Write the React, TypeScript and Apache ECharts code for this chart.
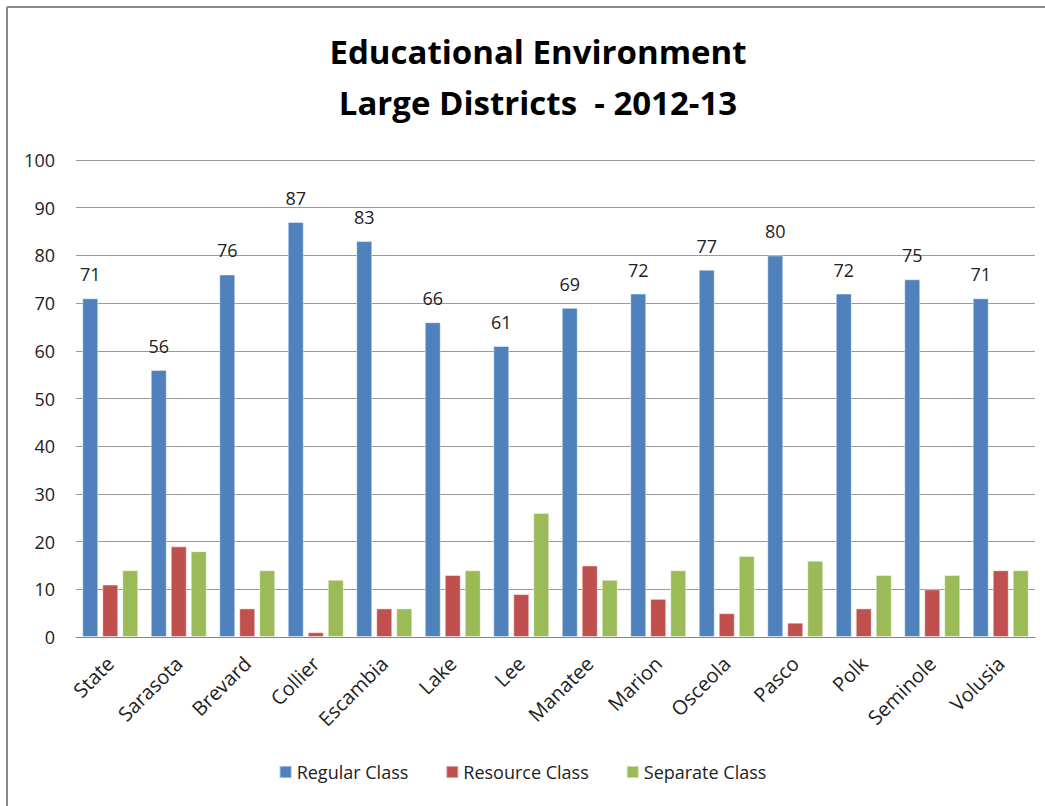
import React, { useEffect, useRef } from "react";
import * as echarts from "echarts";

const categories = ["State", "Sarasota", "Brevard", "Collier", "Escambia", "Lake", "Lee", "Manatee", "Marion", "Osceola", "Pasco", "Polk", "Seminole", "Volusia"];
const regularClass = [71, 56, 76, 87, 83, 66, 61, 69, 72, 77, 80, 72, 75, 71];
const resourceClass = [11, 19, 6, 1, 6, 13, 9, 15, 8, 5, 3, 6, 10, 14];
const separateClass = [14, 18, 14, 12, 6, 14, 26, 12, 14, 17, 16, 13, 13, 14];
const seriesNames = ["Regular Class", "Resource Class", "Separate Class"];
const titleLines = ["Educational Environment", "Large Districts  - 2012-13"];

const FONT = "'Open Sans', Lato, sans-serif";

export default function App() {
  const ref = useRef<HTMLDivElement>(null);
  useEffect(() => {
    document.body.style.margin = "0";
    const chart = echarts.init(ref.current!, null, { renderer: "svg" });
    const itemBorder = { borderColor: "rgba(255,255,255,0.45)", borderWidth: 1 };
    chart.setOption({
      animation: false,
      backgroundColor: "#ffffff",
      textStyle: { fontFamily: FONT },
      title: [
        {
          text: titleLines[0],
          left: 533,
          textAlign: "center",
          top: 30,
          textStyle: { fontSize: 33, fontWeight: "bold", color: "#000", fontFamily: FONT },
        },
        {
          text: titleLines[1],
          left: 533,
          textAlign: "center",
          top: 81,
          textStyle: { fontSize: 33, fontWeight: "bold", color: "#000", fontFamily: FONT },
        },
      ],
      graphic: [
        { type: "line", shape: { x1: 7, y1: 7, x2: 1045, y2: 7 }, style: { stroke: "#8a8a8a", lineWidth: 2 } },
        { type: "line", shape: { x1: 7, y1: 7, x2: 7, y2: 806 }, style: { stroke: "#8a8a8a", lineWidth: 2 } },
      ],
      legend: {
        bottom: 20,
        left: "center",
        itemWidth: 12,
        itemHeight: 12,
        itemGap: 37,
        icon: "rect",
        textStyle: { fontSize: 18, color: "#222", fontFamily: FONT },
        data: seriesNames,
      },
      grid: { left: 76, right: 10, top: 160, bottom: 169, containLabel: false },
      xAxis: {
        type: "category",
        data: categories,
        axisTick: { show: false },
        axisLine: { lineStyle: { color: "#868686", width: 1 } },
        axisLabel: { rotate: 45, fontSize: 20, color: "#222", margin: 23, interval: 0, fontFamily: FONT },
      },
      yAxis: {
        type: "value",
        min: 0,
        max: 100,
        interval: 10,
        axisLine: { show: false },
        axisTick: { show: false },
        splitLine: { lineStyle: { color: "#9a9a9a", width: 1 } },
        axisLabel: { fontSize: 18, color: "#222", margin: 21, fontFamily: FONT },
      },
      series: [
        {
          name: seriesNames[0],
          type: "bar",
          data: regularClass,
          barWidth: 16,
          barGap: "25%",
          itemStyle: { color: "#4F81BD", ...itemBorder },
          label: { show: true, position: "top", distance: 15, fontSize: 18, color: "#222", fontFamily: FONT },
        },
        {
          name: seriesNames[1],
          type: "bar",
          data: resourceClass,
          barWidth: 16,
          barGap: "25%",
          itemStyle: { color: "#C0504D", ...itemBorder },
        },
        {
          name: seriesNames[2],
          type: "bar",
          data: separateClass,
          barWidth: 16,
          barGap: "25%",
          itemStyle: { color: "#9BBB59", ...itemBorder },
        },
      ],
    });
    return () => chart.dispose();
  }, []);
  return <div ref={ref} style={{ position: "absolute", left: 0, top: 0, width: 1045, height: 806 }} />;
}
